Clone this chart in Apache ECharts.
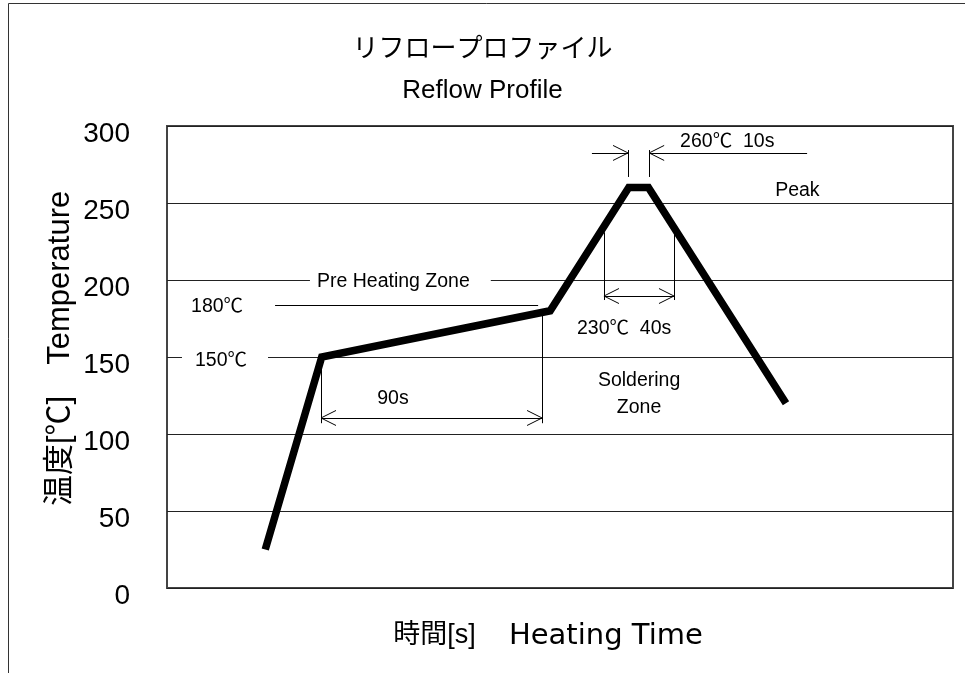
<!DOCTYPE html>
<html><head><meta charset="utf-8">
<script src="https://cdn.jsdelivr.net/npm/echarts@6/dist/echarts.min.js"></script>
<style>html,body{margin:0;padding:0;background:#fff}#c{width:965px;height:673px}</style>
</head><body><div id="c"></div>
<script>
const FONT = "'Liberation Sans','Noto Sans CJK JP',sans-serif";
// y axis ticks
const tempTicks = [0, 50, 100, 150, 200, 250, 300];
// reflow profile (time [s], temperature [°C])
const profileTime = [40, 63, 156, 188, 196, 252];
const profileTemp = [25, 150, 180, 260, 260, 120];
// thin guide / dimension lines, each [[t1,T1],[t2,T2]]
const guideLines = [
  [[44, 183.8], [151.1, 183.8]],
  [[62.7, 150], [62.7, 107]],
  [[152.7, 177.3], [152.7, 107]],
  [[62.7, 110.4], [152.7, 110.4]],
  [[187.7, 284.4], [187.7, 266.9]],
  [[196.3, 284.4], [196.3, 266.9]],
  [[173.0, 282.5], [187.7, 282.5]],
  [[196.3, 282.5], [260.6, 282.5]],
  [[177.9, 231], [177.9, 187]],
  [[206.4, 231], [206.4, 187]],
  [[177.9, 189.6], [206.4, 189.6]]
];
// arrow tips: [t, T, direction (+1 points right, -1 points left)]
const arrowTips = [
  [62.7, 110.4, -1], [152.7, 110.4, 1],
  [187.7, 282.5, 1], [196.3, 282.5, -1],
  [177.9, 189.6, -1], [206.4, 189.6, 1]
];
// annotation texts
const noteText = ['180℃', '150℃', 'Pre Heating Zone', '90s', '260℃  10s', 'Peak', '230℃  40s', 'Soldering\nZone'];
const noteTime = [20.4, 6.1, 58.2, 92, 208.9, 247.6, 166.9, 192.2];
const noteTemp = [182.5, 147.4, 198.7, 122.7, 289.6, 257.8, 168.2, 125.6];
const noteAlign = ['center', 'left', 'left', 'center', 'left', 'left', 'left', 'center'];

const chart = echarts.init(document.getElementById('c'));
const noteStyle = {
  1: {backgroundColor: '#fff', padding: [3, 21, 3, 13]},
  2: {backgroundColor: '#fff', padding: [3, 21, 3, 7]}
};
chart.setOption({
  animation: false,
  backgroundColor: '#fff',
  textStyle: {fontFamily: FONT, color: '#000'},
  title: {
    text: 'リフロープロファイル', subtext: 'Reflow Profile',
    left: 'center', top: 32, itemGap: 15,
    textStyle: {fontSize: 26, fontWeight: 'normal', color: '#000', fontFamily: FONT},
    subtextStyle: {fontSize: 26, color: '#000', fontFamily: FONT}
  },
  grid: {left: 167, right: 12, top: 126, bottom: 85, show: true, borderColor: '#444', borderWidth: 2, backgroundColor: '#fff'},
  xAxis: {
    type: 'value', min: 0, max: 320,
    axisLine: {show: false}, axisTick: {show: false}, axisLabel: {show: false}, splitLine: {show: false},
    name: '{a|時間[s]}{g|　 }{b|Heating Time}', nameLocation: 'middle', nameGap: 30,
    nameTextStyle: {
      color: '#000', fontFamily: FONT, padding: [0, 24, 0, 0],
      rich: {
        a: {fontSize: 27, color: '#000', fontFamily: FONT, lineHeight: 36},
        g: {fontSize: 26, fontFamily: FONT, lineHeight: 36},
        b: {fontSize: 29, color: '#000', fontFamily: "'DejaVu Sans',sans-serif", lineHeight: 36}
      }
    }
  },
  yAxis: {
    type: 'value', min: tempTicks[0], max: tempTicks[tempTicks.length - 1], interval: tempTicks[1] - tempTicks[0],
    axisLine: {show: false}, axisTick: {show: false},
    axisLabel: {fontSize: 28, color: '#000', margin: 37, verticalAlign: 'top', lineHeight: 16, fontFamily: FONT},
    splitLine: {lineStyle: {color: '#222', width: 1}},
    name: '  温度[℃]　Temperature', nameLocation: 'middle', nameGap: 91, nameMoveOverlap: false,
    nameTextStyle: {fontSize: 31, color: '#000', fontFamily: FONT}
  },
  graphic: [
    {type: 'line', shape: {x1: 8.5, y1: 3.5, x2: 8.5, y2: 673}, style: {stroke: '#333', lineWidth: 1}, silent: true},
    {type: 'line', shape: {x1: 8.5, y1: 3.5, x2: 965, y2: 3.5}, style: {stroke: '#333', lineWidth: 1}, silent: true}
  ],
  series: [
    {
      type: 'lines', coordinateSystem: 'cartesian2d', polyline: false, silent: true, z: 3,
      lineStyle: {color: '#000', width: 1, opacity: 1},
      data: guideLines.map(c => ({coords: c}))
    },
    {
      type: 'custom', silent: true, z: 3,
      data: arrowTips,
      renderItem: function (params, api) {
        const p = api.coord([api.value(0), api.value(1)]);
        const d = api.value(2);
        return {
          type: 'polyline',
          shape: {points: [[p[0] - d * 15, p[1] - 7.5], p, [p[0] - d * 15, p[1] + 7.5]]},
          style: {stroke: '#000', lineWidth: 1, fill: null}
        };
      }
    },
    {
      type: 'scatter', silent: true, symbolSize: 0, z: 4,
      itemStyle: {opacity: 1},
      emphasis: {disabled: true},
      data: noteText.map((t, i) => ({
        value: [noteTime[i], noteTemp[i]],
        label: Object.assign({
          show: true, position: 'inside', formatter: t, align: noteAlign[i], verticalAlign: 'middle',
          fontSize: 19.5, color: '#000', fontFamily: FONT, lineHeight: 27, textBorderWidth: 0, opacity: 1
        }, noteStyle[i] || {})
      }))
    },
    {
      type: 'line', silent: true, z: 5, symbol: 'none',
      data: profileTime.map((t, i) => [t, profileTemp[i]]),
      lineStyle: {color: '#000', width: 7.5, cap: 'butt', join: 'miter'}
    }
  ]
});
</script></body></html>
